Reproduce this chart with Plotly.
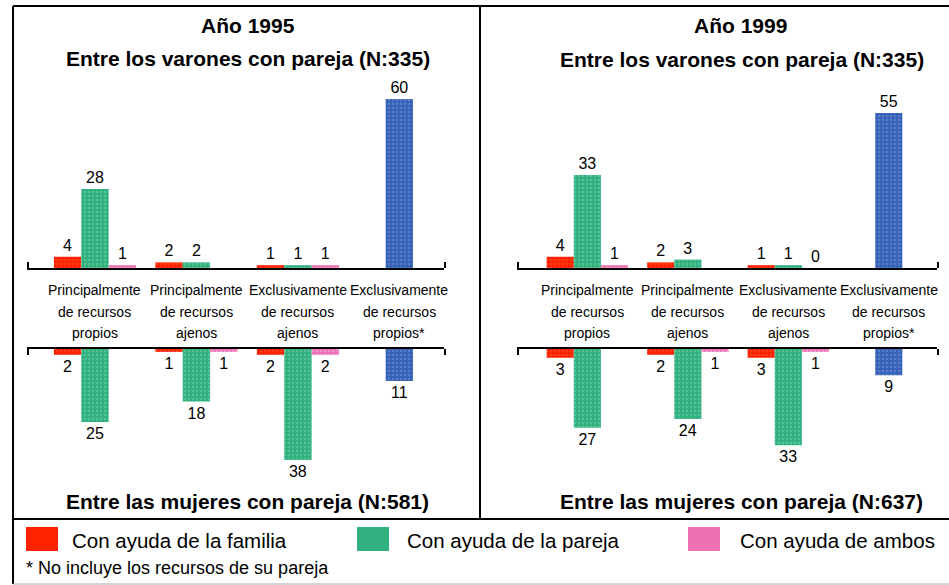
import plotly.graph_objects as go

W, H = 949, 585

# ---------------- data ----------------
categories = ["pp", "pa", "ea", "ep"]
category_lines = [
    ["Principalmente", "de recursos", "propios"],
    ["Principalmente", "de recursos", "ajenos"],
    ["Exclusivamente", "de recursos", "ajenos"],
    ["Exclusivamente", "de recursos", "propios*"],
]
series_names = ["Con ayuda de la familia", "Con ayuda de la pareja", "Con ayuda de ambos"]

# Año 1995 - varones (N:335)
men95_familia = [4, 2, 1, None]
men95_pareja = [28, 2, 1, None]
men95_ambos = [1, None, 1, None]
men95_propios = [None, None, None, 60]
# Año 1995 - mujeres (N:581)
wom95_familia = [2, 1, 2, None]
wom95_pareja = [25, 18, 38, None]
wom95_ambos = [None, 1, 2, None]
wom95_propios = [None, None, None, 11]
# Año 1999 - varones (N:335)
men99_familia = [4, 2, 1, None]
men99_pareja = [33, 3, 1, None]
men99_ambos = [1, None, 0, None]
men99_propios = [None, None, None, 55]
# Año 1999 - mujeres (N:637)
wom99_familia = [3, 2, 3, None]
wom99_pareja = [27, 24, 33, None]
wom99_ambos = [None, 1, 1, None]
wom99_propios = [None, None, None, 9]

FONT = "Liberation Sans, Arial, sans-serif"

styles = {
    "familia": dict(color="#ff2200", fg="#ff5a3c"),
    "pareja": dict(color="#30b07f", fg="#78d8b0"),
    "ambos": dict(color="#ee72b2", fg="#ffb8dc"),
    "propios": dict(color="#3561b6", fg="#7c9be0"),
}
offsets = {"familia": -0.405, "pareja": -0.135, "ambos": 0.135, "propios": -0.135}
BW = 0.27


def px(x):
    return x / W


def py(y):
    return 1 - y / H


fig = go.Figure()

panels = [
    ("x", "y", {"familia": men95_familia, "pareja": men95_pareja, "ambos": men95_ambos, "propios": men95_propios}),
    ("x2", "y2", {"familia": wom95_familia, "pareja": wom95_pareja, "ambos": wom95_ambos, "propios": wom95_propios}),
    ("x3", "y3", {"familia": men99_familia, "pareja": men99_pareja, "ambos": men99_ambos, "propios": men99_propios}),
    ("x4", "y4", {"familia": wom99_familia, "pareja": wom99_pareja, "ambos": wom99_ambos, "propios": wom99_propios}),
]

for xa, ya, series in panels:
    for key, vals in series.items():
        st = styles[key]
        fig.add_trace(go.Bar(
            x=categories, y=vals, xaxis=xa, yaxis=ya,
            width=BW, offset=offsets[key],
            marker=dict(color=st["color"], line=dict(width=0),
                        pattern=dict(shape=".", fgcolor=st["fg"], size=4, solidity=0.35)),
            text=["" if v is None else str(v) for v in vals],
            textposition="outside", cliponaxis=False,
            textfont=dict(family=FONT, size=16, color="black"),
            showlegend=False, hoverinfo="skip",
        ))

# geometry (pixels)
LX = (27, 444)
RX = (517, 937)
TOP = (70, 268)
BOT = (349, 480)
top_scale = 2.818
bot_scale = 2.92
xr_left = [-0.67, 3.44]
xr_right = [-0.70, 3.48]

common_x = dict(type="category", categoryorder="array", categoryarray=categories,
                showgrid=False, zeroline=False, showticklabels=False, ticks="",
                showline=True, linecolor="black", linewidth=2)
common_y = dict(showgrid=False, zeroline=False, showticklabels=False, ticks="", showline=False)

fig.update_layout(
    xaxis=dict(common_x, domain=[px(LX[0]), px(LX[1])], range=xr_left, anchor="y", side="bottom"),
    yaxis=dict(common_y, domain=[py(TOP[1]), py(TOP[0])], range=[0, (TOP[1] - TOP[0]) / top_scale], anchor="x"),
    xaxis2=dict(common_x, domain=[px(LX[0]), px(LX[1])], range=xr_left, anchor="y2", side="top"),
    yaxis2=dict(common_y, domain=[py(BOT[1]), py(BOT[0])], range=[(BOT[1] - BOT[0]) / bot_scale, 0], anchor="x2"),
    xaxis3=dict(common_x, domain=[px(RX[0]), px(RX[1])], range=xr_right, anchor="y3", side="bottom"),
    yaxis3=dict(common_y, domain=[py(TOP[1]), py(TOP[0])], range=[0, (TOP[1] - TOP[0]) / top_scale], anchor="x3"),
    xaxis4=dict(common_x, domain=[px(RX[0]), px(RX[1])], range=xr_right, anchor="y4", side="top"),
    yaxis4=dict(common_y, domain=[py(BOT[1]), py(BOT[0])], range=[(BOT[1] - BOT[0]) / bot_scale, 0], anchor="x4"),
    barmode="overlay",
    width=W, height=H,
    margin=dict(l=0, r=0, t=0, b=0),
    paper_bgcolor="white", plot_bgcolor="white",
    font=dict(family=FONT, color="black"),
)

shapes = []
line = dict(color="black", width=2)
# frame
shapes.append(dict(type="line", xref="paper", yref="paper", x0=px(13), x1=px(13), y0=py(6), y1=py(584), line=line))
shapes.append(dict(type="line", xref="paper", yref="paper", x0=px(13), x1=1, y0=py(6), y1=py(6), line=line))
shapes.append(dict(type="line", xref="paper", yref="paper", x0=px(480), x1=px(480), y0=py(6), y1=py(519), line=line))
shapes.append(dict(type="line", xref="paper", yref="paper", x0=px(13), x1=1, y0=py(519), y1=py(519), line=line))
shapes.append(dict(type="line", xref="paper", yref="paper", x0=px(13), x1=1, y0=py(584), y1=py(584),
                   line=dict(color="#aaaaaa", width=1)))
# axis end hooks
for (a, b) in (LX, RX):
    for xx in (a, b):
        shapes.append(dict(type="line", xref="paper", yref="paper", x0=px(xx + 1), x1=px(xx + 1),
                           y0=py(TOP[1]), y1=py(TOP[1] - 6), line=line))
        shapes.append(dict(type="line", xref="paper", yref="paper", x0=px(xx + 1), x1=px(xx + 1),
                           y0=py(BOT[0]), y1=py(BOT[0] + 6), line=line))

# legend squares
legend_items = [
    (26, 70, "familia", series_names[0]),
    (357, 405, "pareja", series_names[1]),
    (688, 738, "ambos", series_names[2]),
]
for x0, tx, key, name in legend_items:
    shapes.append(dict(type="rect", xref="paper", yref="paper", x0=px(x0), x1=px(x0 + 32),
                       y0=py(551), y1=py(527), fillcolor=styles[key]["color"], line=dict(width=0)))
fig.update_layout(shapes=shapes)

ann = []


def text(x, y, s, size, bold=False, xanchor="center"):
    ann.append(dict(xref="paper", yref="paper", x=px(x), y=py(y), text=s, showarrow=False,
                    xanchor=xanchor, yanchor="middle",
                    font=dict(family=FONT, size=size, color="black", weight="bold" if bold else "normal")))


text(248, 26, "Año 1995", 21, True)
text(248, 59, "Entre los varones con pareja (N:335)", 21, True)
text(740, 26, "Año 1999", 21, True)
text(742, 60, "Entre los varones con pareja (N:335)", 21, True)
text(247, 501, "Entre las mujeres con pareja (N:581)", 21, True)
text(741, 502, "Entre las mujeres con pareja (N:637)", 21, True)

for x0, tx, key, name in legend_items:
    text(tx, 540, name, 20.5, xanchor="left")
text(24, 568, "* No incluye los recursos de su pareja", 18, xanchor="left")

# category labels between the axes
for xa in ("x", "x3"):
    for cat, lines in zip(categories, category_lines):
        for i, ln in enumerate(lines):
            ann.append(dict(xref=xa, yref="paper", x=cat, y=py(290 + 21.5 * i), text=ln, showarrow=False,
                            xanchor="center", yanchor="middle",
                            font=dict(family=FONT, size=14, color="black")))

fig.update_layout(annotations=ann)

fig.write_html("out.html", config={"displayModeBar": False},
               post_script="document.body.style.margin='0';")
